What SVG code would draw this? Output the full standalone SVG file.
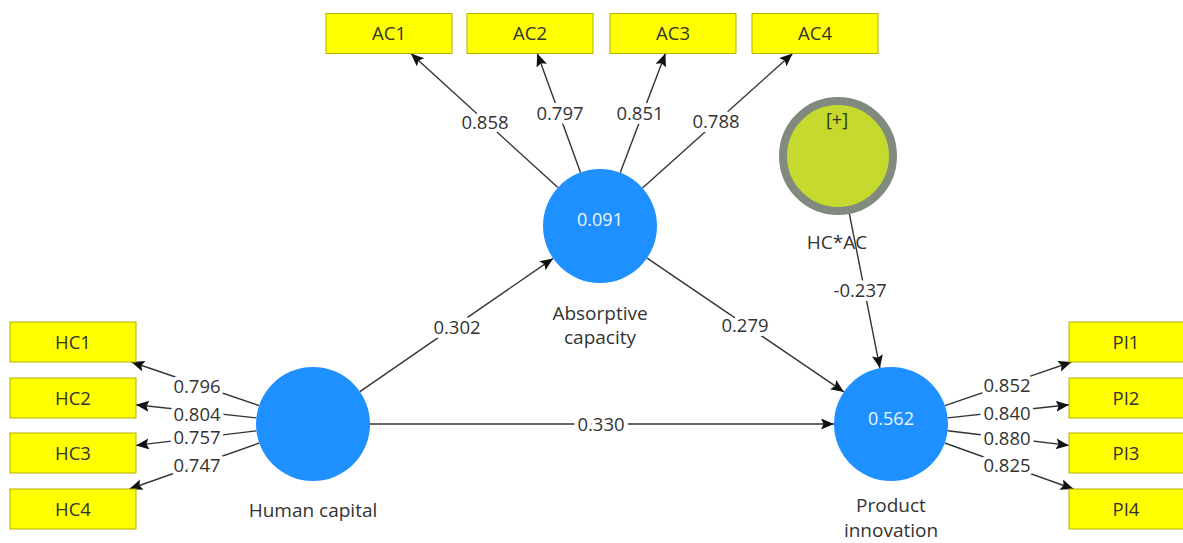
<svg xmlns="http://www.w3.org/2000/svg" width="1183" height="543" viewBox="0 0 1183 543">
<style>
  .box{fill:#ffff00;stroke:#b2b200;stroke-width:1}
  .btxt{font-family:"Open Sans","Liberation Sans",sans-serif;font-size:18.5px;fill:#333;text-anchor:middle}
  .lv{fill:#1e90ff}
  .ltxt{font-family:"Open Sans","Liberation Sans",sans-serif;font-size:19px;fill:#333;text-anchor:middle}
  .vtxt{font-family:"Open Sans","Liberation Sans",sans-serif;font-size:18px;fill:#eef5ff;text-anchor:middle}
  .edge{stroke:#333;stroke-width:1.4;fill:none;marker-end:url(#ah)}
  .num{font-family:"Open Sans","Liberation Sans",sans-serif;font-size:18.5px;fill:#333;text-anchor:middle;stroke:#fff;stroke-width:8;paint-order:stroke;stroke-linejoin:round}
</style>
<defs>
  <marker id="ah" markerUnits="userSpaceOnUse" markerWidth="14" markerHeight="12" refX="13" refY="5.5" orient="auto">
    <path d="M0,0 L13,5.5 L0,11 L2.5,5.5 z" fill="#111"/>
  </marker>
</defs>
<rect width="1183" height="543" fill="#fff"/>

<g id="connectors">
  <line class="edge" x1="359.9" y1="391.6" x2="553.1" y2="258.4"/>
  <line class="edge" x1="647.1" y1="258.1" x2="843.9" y2="391.9"/>
  <line class="edge" x1="370" y1="424" x2="834" y2="424"/>
  <line class="edge" x1="849.4" y1="213.9" x2="879.9" y2="368.1"/>
  <line class="edge" x1="557.9" y1="187.6" x2="410.9" y2="53.5"/>
  <line class="edge" x1="580.5" y1="172.4" x2="537.3" y2="53.5"/>
  <line class="edge" x1="620.2" y1="172.7" x2="665.4" y2="53.5"/>
  <line class="edge" x1="642.5" y1="188.0" x2="792.6" y2="53.5"/>
  <line class="edge" x1="259.1" y1="405.6" x2="131.5" y2="362"/>
  <line class="edge" x1="256.3" y1="417.9" x2="136" y2="404.8"/>
  <line class="edge" x1="256.4" y1="430.8" x2="136" y2="445.4"/>
  <line class="edge" x1="259.3" y1="443.0" x2="129.5" y2="489"/>
  <line class="edge" x1="945" y1="405.6" x2="1071.5" y2="362"/>
  <line class="edge" x1="947.7" y1="417.9" x2="1069" y2="404.8"/>
  <line class="edge" x1="947.6" y1="430.8" x2="1069" y2="445.4"/>
  <line class="edge" x1="944.8" y1="443.0" x2="1073.5" y2="489"/>
  <text class="num" x="457" y="333.5">0.302</text>
  <text class="num" x="745" y="331.5">0.279</text>
  <text class="num" x="601" y="430.5">0.330</text>
  <text class="num" x="860" y="296.5">-0.237</text>
  <text class="num" x="485" y="128.5">0.858</text>
  <text class="num" x="560" y="119.5">0.797</text>
  <text class="num" x="640" y="119.5">0.851</text>
  <text class="num" x="716" y="127.5">0.788</text>
  <text class="num" x="197" y="392.5">0.796</text>
  <text class="num" x="197" y="420.5">0.804</text>
  <text class="num" x="197" y="443.5">0.757</text>
  <text class="num" x="197" y="471.5">0.747</text>
  <text class="num" x="1007" y="391.5">0.852</text>
  <text class="num" x="1007" y="419.5">0.840</text>
  <text class="num" x="1007" y="444.5">0.880</text>
  <text class="num" x="1007" y="471.5">0.825</text>
</g>

<g id="AC1"><rect class="box" x="326" y="13.5" width="126" height="40"/><text class="btxt" x="389" y="40">AC1</text></g>
<g id="AC2"><rect class="box" x="467" y="13.5" width="126" height="40"/><text class="btxt" x="530" y="40">AC2</text></g>
<g id="AC3"><rect class="box" x="610" y="13.5" width="126" height="40"/><text class="btxt" x="673" y="40">AC3</text></g>
<g id="AC4"><rect class="box" x="752" y="13.5" width="126" height="40"/><text class="btxt" x="815" y="40">AC4</text></g>

<g id="HC1"><rect class="box" x="10" y="322" width="126" height="40"/><text class="btxt" x="73" y="348.5">HC1</text></g>
<g id="HC2"><rect class="box" x="10" y="378" width="126" height="40"/><text class="btxt" x="73" y="404.5">HC2</text></g>
<g id="HC3"><rect class="box" x="10" y="433" width="126" height="40"/><text class="btxt" x="73" y="459.5">HC3</text></g>
<g id="HC4"><rect class="box" x="10" y="489" width="126" height="40"/><text class="btxt" x="73" y="515.5">HC4</text></g>

<g id="PI1"><rect class="box" x="1069" y="322" width="126" height="40"/><text class="btxt" x="1126" y="348.5">PI1</text></g>
<g id="PI2"><rect class="box" x="1069" y="378" width="126" height="40"/><text class="btxt" x="1126" y="404.5">PI2</text></g>
<g id="PI3"><rect class="box" x="1069" y="433" width="126" height="40"/><text class="btxt" x="1126" y="459.5">PI3</text></g>
<g id="PI4"><rect class="box" x="1069" y="489" width="126" height="40"/><text class="btxt" x="1126" y="515.5">PI4</text></g>

<g id="absorptive-capacity">
  <circle class="lv" cx="600" cy="226" r="57"/>
  <text class="vtxt" x="600" y="226">0.091</text>
  <text class="ltxt" x="600" y="319.5">Absorptive<tspan x="600" dy="24">capacity</tspan></text>
</g>
<g id="human-capital">
  <circle class="lv" cx="313" cy="424" r="57"/>
  <text class="ltxt" x="313" y="516.5">Human capital</text>
</g>
<g id="product-innovation">
  <circle class="lv" cx="891" cy="424" r="57"/>
  <text class="vtxt" x="891" y="425">0.562</text>
  <text class="ltxt" x="891" y="512">Product<tspan x="891" dy="25">innovation</tspan></text>
</g>
<g id="hc-ac">
  <circle cx="838" cy="156" r="55" fill="#c6d92f" stroke="#808a7e" stroke-width="8"/>
  <text class="ltxt" x="837" y="126" style="fill:#2a3a10;font-size:18px">[+]</text>
  <text class="ltxt" x="837" y="248.5">HC*AC</text>
</g>
</svg>
